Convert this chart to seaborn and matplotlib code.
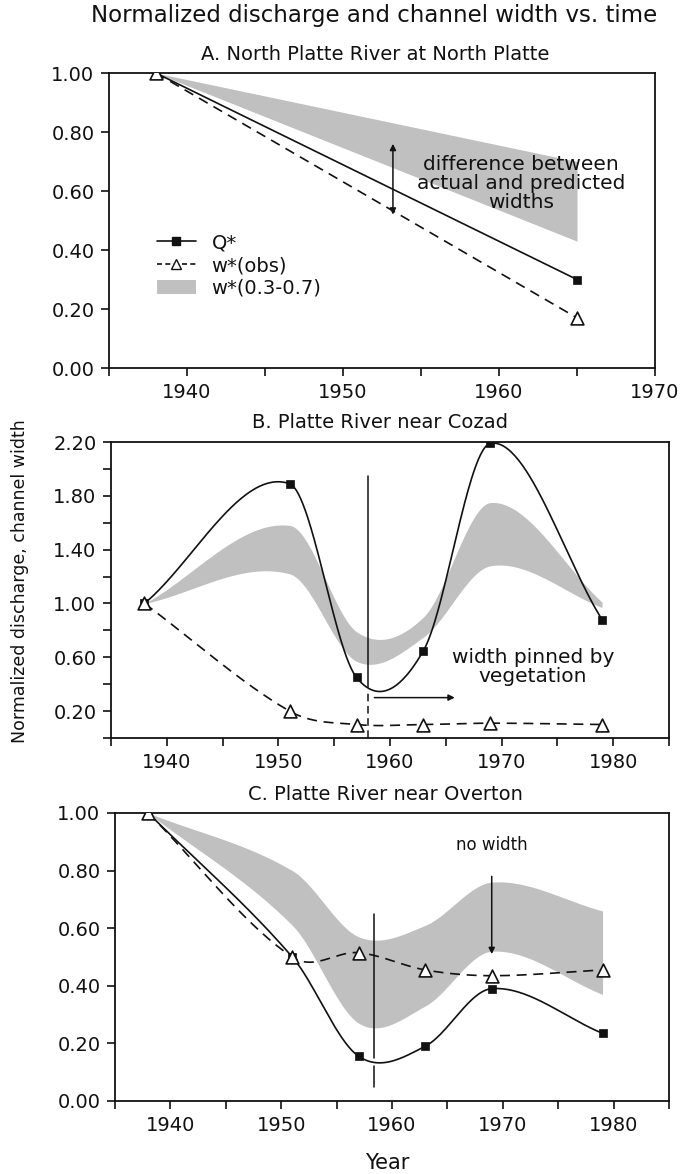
import numpy as np
import matplotlib
matplotlib.use('Agg')
import matplotlib.pyplot as plt
from matplotlib.lines import Line2D
from matplotlib.patches import Patch
from matplotlib.ticker import MultipleLocator, FormatStrFormatter
import seaborn as sns

# --- data ---
# A. North Platte River at North Platte
a_years = [1938, 1965]
a_q = [1.00, 0.30]
a_wobs = [1.00, 0.17]
a_band_lo = [1.00, 0.43]
a_band_hi = [1.00, 0.70]

# B. Platte River near Cozad
b_years = [1938, 1951, 1957, 1963, 1969, 1979]
b_q = [1.00, 1.89, 0.45, 0.65, 2.19, 0.88]
b_wobs = [1.00, 0.20, 0.10, 0.10, 0.11, 0.10]
b_band_lo = [1.00, 1.22, 0.57, 0.75, 1.28, 0.97]
b_band_hi = [1.00, 1.58, 0.79, 0.90, 1.75, 1.01]

# C. Platte River near Overton
c_years = [1938, 1951, 1957, 1963, 1969, 1979]
c_q = [1.00, 0.50, 0.155, 0.19, 0.39, 0.235]
c_wobs = [1.00, 0.50, 0.515, 0.455, 0.435, 0.455]
c_band_lo = [1.00, 0.61, 0.27, 0.33, 0.52, 0.37]
c_band_hi = [1.00, 0.80, 0.57, 0.61, 0.76, 0.66]

GRAY = '#c0c0c0'
INK = '#111111'
DASH = (0, (6, 4))


def smooth(x, y, n=60):
    # Catmull-Rom style cubic Hermite curve through the points (drawing only)
    x = np.asarray(x, float)
    y = np.asarray(y, float)
    k = len(x)
    if k < 3:
        return x, y
    sec = np.diff(y) / np.diff(x)
    m = np.zeros(k)
    m[1:-1] = (y[2:] - y[:-2]) / (x[2:] - x[:-2])
    m[0] = sec[0]
    m[-1] = sec[-1]
    xs, ys = [], []
    for i in range(k - 1):
        h = x[i + 1] - x[i]
        t = np.linspace(0, 1, n, endpoint=(i == k - 2))
        h00 = 2 * t ** 3 - 3 * t ** 2 + 1
        h10 = t ** 3 - 2 * t ** 2 + t
        h01 = -2 * t ** 3 + 3 * t ** 2
        h11 = t ** 3 - t ** 2
        xs.append(x[i] + t * h)
        ys.append(h00 * y[i] + h10 * h * m[i] + h01 * y[i + 1] + h11 * h * m[i + 1])
    return np.concatenate(xs), np.concatenate(ys)


sns.set_theme(style='ticks')
plt.rcParams['font.family'] = ['DejaVu Sans']
plt.rcParams.update({
    'axes.edgecolor': INK, 'axes.linewidth': 1.3,
    'xtick.color': INK, 'ytick.color': INK,
    'xtick.labelcolor': INK, 'ytick.labelcolor': INK,
    'xtick.major.size': 5.5, 'ytick.major.size': 5.5,
    'xtick.minor.size': 5.5, 'ytick.minor.size': 5.5,
    'xtick.major.width': 1.2, 'ytick.major.width': 1.2,
    'xtick.minor.width': 1.2, 'ytick.minor.width': 1.2,
    'xtick.labelsize': 14, 'ytick.labelsize': 14,
    'xtick.major.pad': 5, 'ytick.major.pad': 5,
})

fig = plt.figure(figsize=(6.89, 11.74), dpi=100)
axA = fig.add_axes([0.1582, 0.6865, 0.7925, 0.2513])
axB = fig.add_axes([0.1611, 0.3714, 0.8099, 0.2521])
axC = fig.add_axes([0.1669, 0.0622, 0.8041, 0.2453])


def panel(ax, years, q, wobs, lo, hi):
    xq, yq = smooth(years, q)
    xw, yw = smooth(years, wobs)
    xb, ylo = smooth(years, lo)
    _, yhi = smooth(years, hi)
    ax.fill_between(xb, ylo, yhi, color=GRAY, lw=0, zorder=1)
    sns.lineplot(x=xq, y=yq, ax=ax, color=INK, lw=1.2, estimator=None,
                 sort=False, legend=False, zorder=3)
    sns.lineplot(x=xw, y=yw, ax=ax, color=INK, lw=1.2, linestyle=DASH,
                 estimator=None, sort=False, legend=False, zorder=3)
    sns.scatterplot(x=years, y=q, ax=ax, marker='s', s=40, color=INK,
                    edgecolor=INK, linewidth=0.5, zorder=4, legend=False)
    sns.scatterplot(x=years, y=wobs, ax=ax, marker='^', s=85, color='white',
                    edgecolor=INK, linewidth=1.2, zorder=5, legend=False)


panel(axA, a_years, a_q, a_wobs, a_band_lo, a_band_hi)
panel(axB, b_years, b_q, b_wobs, b_band_lo, b_band_hi)
panel(axC, c_years, c_q, c_wobs, c_band_lo, c_band_hi)

for ax in (axA, axB, axC):
    for s in ax.spines.values():
        s.set_visible(True)
    ax.xaxis.set_minor_locator(MultipleLocator(5))
    ax.yaxis.set_major_formatter(FormatStrFormatter('%.2f'))
    ax.set_xlabel('')
    ax.set_ylabel('')

axA.set_xlim(1935, 1970)
axA.set_xticks([1940, 1950, 1960, 1970])
axA.set_ylim(0, 1)
axA.set_yticks(np.arange(0, 1.01, 0.2))

axB.set_xlim(1935, 1985)
axB.set_xticks([1940, 1950, 1960, 1970, 1980])
axB.set_ylim(0, 2.2)
axB.set_yticks([0.2, 0.6, 1.0, 1.4, 1.8, 2.2])
axB.set_yticks([0.0, 0.4, 0.8, 1.2, 1.6, 2.0], minor=True)

axC.set_xlim(1935, 1985)
axC.set_xticks([1940, 1950, 1960, 1970, 1980])
axC.set_ylim(0, 1)
axC.set_yticks(np.arange(0, 1.01, 0.2))

# annotations, panel A
axA.annotate('', xy=(1953.2, 0.76), xytext=(1953.2, 0.52),
             arrowprops=dict(arrowstyle='<|-|>', color=INK, lw=1.1,
                             mutation_scale=9, shrinkA=0, shrinkB=0))
axA.text(1961.4, 0.625, 'difference between\nactual and predicted\nwidths',
         ha='center', va='center', fontsize=14.5, color=INK, linespacing=1.0)
handles = [
    Line2D([], [], color=INK, lw=1.2, marker='s', markersize=6),
    Line2D([], [], color=INK, lw=1.2, linestyle=(0, (3, 2)), marker='^',
           markersize=7, markerfacecolor='white', markeredgecolor=INK),
    Patch(facecolor=GRAY, edgecolor='none'),
]
axA.legend(handles, ['Q*', 'w*(obs)', 'w*(0.3-0.7)'], loc='upper left',
           bbox_to_anchor=(0.07, 0.49), frameon=False, fontsize=14,
           handlelength=2.0, handletextpad=0.8, labelspacing=0.2,
           borderpad=0, labelcolor=INK)

# annotations, panel B
axB.plot([1958.0, 1958.0], [0.38, 1.95], color=INK, lw=1.1, zorder=2)
axB.plot([1958.0, 1958.0], [0.0, 0.35], color=INK, lw=1.1,
         linestyle=(0, (5, 3)), zorder=2)
axB.annotate('', xy=(1965.8, 0.30), xytext=(1958.6, 0.30),
             arrowprops=dict(arrowstyle='-|>', color=INK, lw=1.1,
                             mutation_scale=9, shrinkA=0, shrinkB=0))
axB.text(1972.8, 0.53, 'width pinned by\nvegetation', ha='center',
         va='center', fontsize=14.5, color=INK, linespacing=1.0)

# annotations, panel C
axC.plot([1958.4, 1958.4], [0.15, 0.65], color=INK, lw=1.1, zorder=2)
axC.plot([1958.4, 1958.4], [0.05, 0.12], color=INK, lw=1.1, zorder=2)
axC.annotate('', xy=(1969, 0.51), xytext=(1969, 0.78),
             arrowprops=dict(arrowstyle='-|>', color=INK, lw=1.1,
                             mutation_scale=9, shrinkA=0, shrinkB=0))
axC.text(1969, 0.89, 'no width', ha='center', va='center', fontsize=12,
         color=INK)

# titles and axis labels
fig.text(0.543, 0.987, 'Normalized discharge and channel width vs. time',
         ha='center', va='center', fontsize=16.5, color=INK)
fig.text(0.545, 0.954, 'A. North Platte River at North Platte',
         ha='center', va='center', fontsize=14, color=INK)
fig.text(0.552, 0.640, 'B. Platte River near Cozad',
         ha='center', va='center', fontsize=14, color=INK)
fig.text(0.560, 0.323, 'C. Platte River near Overton',
         ha='center', va='center', fontsize=14, color=INK)
fig.text(0.029, 0.505, 'Normalized discharge, channel width', rotation=90,
         ha='center', va='center', fontsize=12.5, color=INK)
fig.text(0.562, 0.0094, 'Year', ha='center', va='center', fontsize=15,
         color=INK)

fig.savefig('out.png', dpi=100)
